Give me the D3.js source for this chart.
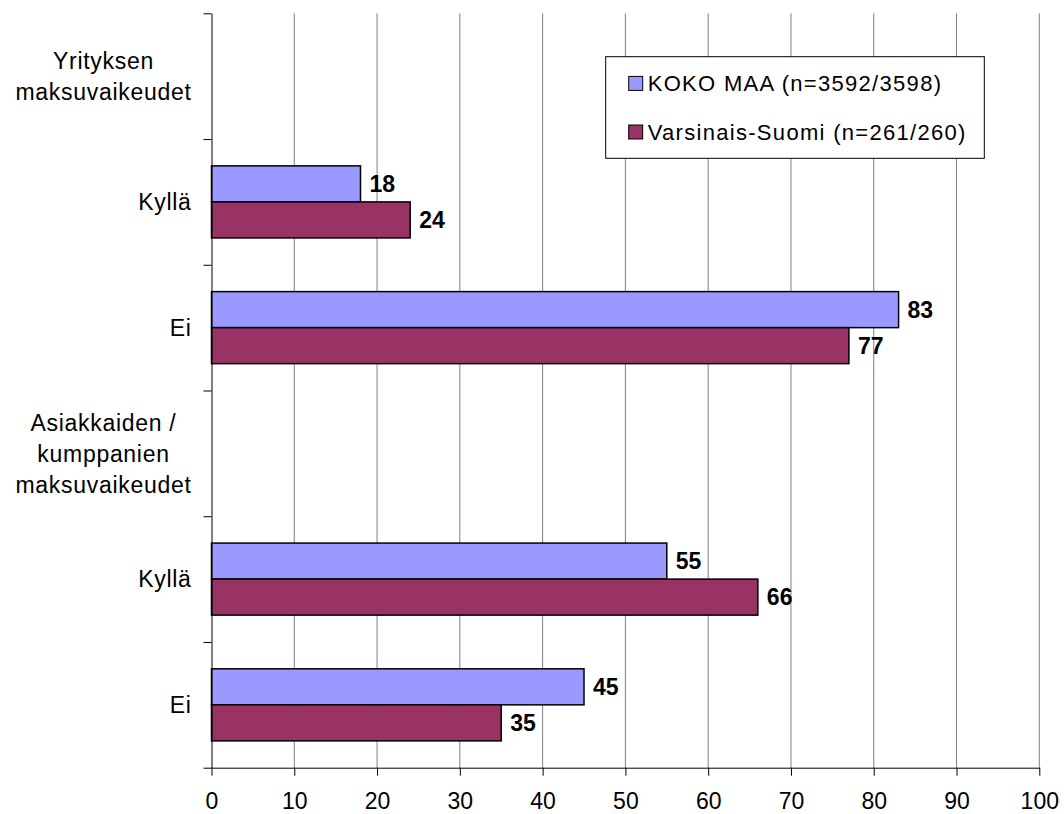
<!DOCTYPE html>
<html>
<head>
<meta charset="utf-8">
<script src="https://cdn.jsdelivr.net/npm/d3@7"></script>
<style>
  body { margin: 0; background: #fff; }
  text { font-family: "Liberation Sans", Arial, sans-serif; }
</style>
</head>
<body>
<div class="chart"></div>
<script>
// data (header rows have no values)
var categories = [
  ["Yrityksen", "maksuvaikeudet"],
  ["Kyllä"],
  ["Ei"],
  ["Asiakkaiden /", "kumppanien", "maksuvaikeudet"],
  ["Kyllä"],
  ["Ei"]
];
var seriesNames = ["KOKO MAA (n=3592/3598)", "Varsinais-Suomi (n=261/260)"];
var kokoMaa = [null, 18, 83, null, 55, 45];
var varsinaisSuomi = [null, 24, 77, null, 66, 35];
var xTicks = [0, 10, 20, 30, 40, 50, 60, 70, 80, 90, 100];
var colors = ["#9999ff", "#993366"];

var svgWidth = 1064;
var svgHeight = 814;
var margin = { top: 13.3, right: 24.7, bottom: 46.3, left: 211.5 };
var width = svgWidth - margin.left - margin.right;
var height = svgHeight - margin.top - margin.bottom;

var svg = d3.select(".chart")
  .append("svg")
  .attr("width", svgWidth)
  .attr("height", svgHeight);

var chartGroup = svg.append("g")
  .attr("transform", `translate(${margin.left}, ${margin.top})`);

var xScale = d3.scaleLinear().domain([0, 100]).range([0, width]);

var yBand = d3.scaleBand()
  .domain(d3.range(categories.length))
  .range([0, height])
  .paddingInner(0.427)
  .paddingOuter(0.2135);

var ySeries = d3.scaleBand()
  .domain([0, 1])
  .range([0, yBand.bandwidth()]);

// index scale for tick marks on band edges
var yEdge = d3.scaleLinear().domain([0, categories.length]).range([0, height]);

// grid lines
chartGroup.append("g")
  .selectAll("line")
  .data(xTicks.slice(1))
  .enter()
  .append("line")
  .attr("x1", d => xScale(d))
  .attr("x2", d => xScale(d))
  .attr("y1", 0)
  .attr("y2", height)
  .attr("stroke", "#808080")
  .attr("stroke-width", 1);

// bars
var barData = [];
categories.forEach(function(c, i) {
  [kokoMaa[i], varsinaisSuomi[i]].forEach(function(v, s) {
    if (v !== null) barData.push({ i: i, s: s, v: v });
  });
});

chartGroup.selectAll("rect.bar")
  .data(barData)
  .enter()
  .append("rect")
  .attr("class", "bar")
  .attr("x", xScale(0))
  .attr("y", d => yBand(d.i) + ySeries(d.s))
  .attr("width", d => xScale(d.v) - xScale(0))
  .attr("height", ySeries.bandwidth())
  .attr("fill", d => colors[d.s])
  .attr("stroke", "#000")
  .attr("stroke-width", 1.5);

chartGroup.selectAll("text.val")
  .data(barData)
  .enter()
  .append("text")
  .attr("class", "val")
  .attr("x", d => xScale(d.v) + 9)
  .attr("y", d => yBand(d.i) + ySeries(d.s) + ySeries.bandwidth() / 2)
  .attr("dy", "0.36em")
  .style("font-size", "23px")
  .style("font-weight", "bold")
  .text(d => d.v);

// axes
var bottomAxis = d3.axisBottom(xScale)
  .tickValues(xTicks)
  .tickSize(8)
  .tickSizeOuter(0)
  .tickPadding(17);

var xAxisG = chartGroup.append("g")
  .attr("transform", `translate(0, ${height})`)
  .call(bottomAxis);
xAxisG.selectAll("text")
  .style("font-size", "23px")
  .style("font-family", "Liberation Sans, Arial, sans-serif")
  .attr("fill", "#000");
xAxisG.selectAll("line").attr("stroke", "#000");
xAxisG.select(".domain").attr("stroke", "#000");

var leftAxis = d3.axisLeft(yEdge)
  .tickValues(d3.range(categories.length + 1))
  .tickFormat("")
  .tickSize(8)
  .tickSizeOuter(0);

var yAxisG = chartGroup.append("g").call(leftAxis);
yAxisG.selectAll("line").attr("stroke", "#000");
yAxisG.select(".domain").attr("stroke", "#000");

// category labels: lines centred on the band, block right-aligned
var labelRight = -20;
var lineGap = 31;
categories.forEach(function(lines, i) {
  var g = chartGroup.append("g");
  var mid = yBand(i) + yBand.bandwidth() / 2;
  var texts = lines.map(function(line, k) {
    return g.append("text")
      .attr("y", mid + (k - (lines.length - 1) / 2) * lineGap)
      .attr("dy", "0.36em")
      .style("font-size", "23px")
      .style("letter-spacing", "0.7px")
      .attr("text-anchor", "middle")
      .text(line);
  });
  var maxW = d3.max(texts, t => t.node().getComputedTextLength());
  texts.forEach(t => t.attr("x", labelRight - maxW / 2));
});

// legend
var legend = svg.append("g").attr("transform", "translate(605.7, 56.7)");
legend.append("rect")
  .attr("width", 378.6)
  .attr("height", 101.6)
  .attr("fill", "#fff")
  .attr("stroke", "#000")
  .attr("stroke-width", 1);

seriesNames.forEach(function(name, s) {
  var cy = 26.7 + s * 48.6;
  legend.append("rect")
    .attr("x", 23)
    .attr("y", cy - 7)
    .attr("width", 14)
    .attr("height", 14)
    .attr("fill", colors[s])
    .attr("stroke", "#000")
    .attr("stroke-width", 1);
  legend.append("text")
    .attr("x", 42)
    .attr("y", cy)
    .attr("dy", "0.36em")
    .style("font-size", "22px")
    .style("letter-spacing", "1.3px")
    .text(name);
});
</script>
</body>
</html>
